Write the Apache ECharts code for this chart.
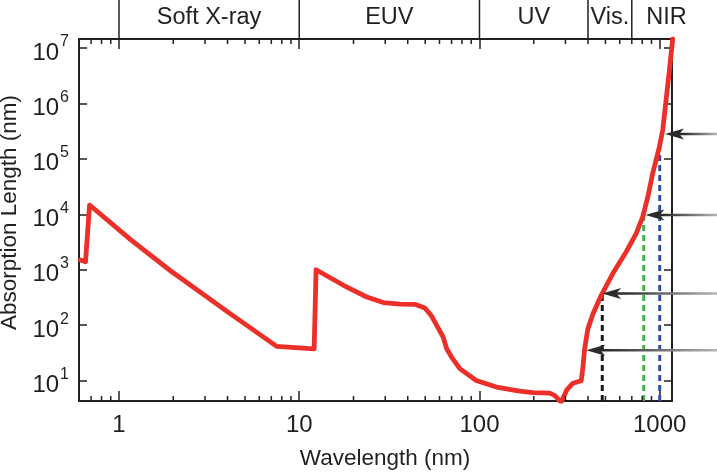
<!DOCTYPE html>
<html>
<head>
<meta charset="utf-8">
<script src="https://cdn.jsdelivr.net/npm/echarts@6/dist/echarts.min.js"></script>
<style>
  html, body { margin: 0; padding: 0; background: #fff; }
  #chart { width: 717px; height: 476px; }
</style>
</head>
<body>
<div id="chart"></div>
<script>
// Absorption length of silicon versus wavelength (log-log)
const wavelength = [0.61, 0.652, 0.687, 1.16, 1.93, 4.1, 7.5, 12.1, 12.4,
  17.6, 23.7, 29.3, 36.2, 43.8, 49.8, 54, 57.8, 62.9, 65.7,
  70, 77.8, 96, 124, 167, 198, 245, 261, 284, 305,
  330, 367, 375, 383, 399, 426, 474, 549, 651, 740,
  805, 859, 914, 996, 1039, 1085, 1132, 1180];
const absorption = [1500, 1400, 14700, 3500, 960, 165, 41.6, 37.5, 1000,
  525, 323, 256, 240, 238, 205, 150, 100, 61, 38,
  26.7, 16.5, 10.1, 7.66, 6.5, 6.07, 5.97, 5.43, 4.1, 6.8,
  9.0, 10.0, 17.6, 37, 85, 160, 347, 853, 2094, 4500,
  9000, 20600, 54500, 165000, 330000, 1150000, 4000000, 14500000];

// Spectral regions along the top
const bandNames = ['Soft X-ray', 'EUV', 'UV', 'Vis.', 'NIR'];
const bandEdges = [1, 10, 100, 400, 700, 1700];

// Laser wavelengths marked with dashed drop lines: [wavelength, absorption at top]
const dropBlack = [480, 360];
const dropGreen = [815, 9700];
const dropBlue = [1000, 160000];

// Arrow tips pointing at the curve: [wavelength, absorption]
const arrowTips = [[1070, 280000], [833, 9700], [479, 372], [391, 35.2]];

// Minor ticks on the wavelength axis
const minorTicks = [0.7, 0.8, 0.9, 2, 3, 4, 5, 6, 7, 8, 9,
  20, 30, 40, 50, 60, 70, 80, 90, 200, 300, 400, 500, 600, 700, 800, 900];

const X_MIN = 0.6, X_MAX = 1170;
const Y_MIN = 4.3, Y_MAX = 14500000;

const INK = '#231f20';
const FONT = "'Liberation Sans', Arial, sans-serif";

function isDecade(v) {
  const l = Math.log10(v);
  return Math.abs(l - Math.round(l)) < 1e-6;
}

const chart = echarts.init(document.getElementById('chart'), null, { renderer: 'canvas' });

const axisLineStyle = { color: INK, width: 2 };
const tickStyle = { color: INK, width: 1.5 };

const option = {
  animation: false,
  backgroundColor: '#fff',
  grid: { left: 79, right: 45, top: 39, bottom: 75, containLabel: false, outerBoundsMode: 'none' },
  xAxis: [
    {
      type: 'log', logBase: 10, min: X_MIN, max: X_MAX, position: 'bottom',
      axisLine: { lineStyle: axisLineStyle },
      axisTick: { inside: true, length: 10, lineStyle: tickStyle },
      splitLine: { show: false },
      axisLabel: {
        showMinLabel: false, showMaxLabel: false, margin: 12,
        fontFamily: FONT, fontSize: 24, color: INK,
        formatter: v => isDecade(v) ? String(Math.round(v)) : ''
      },
      name: 'Wavelength (nm)', nameLocation: 'middle', nameGap: 46,
      nameTextStyle: { fontFamily: FONT, fontSize: 22.5, color: INK, padding: [0, 0, 0, 19] }
    },
    {
      type: 'log', logBase: 10, min: X_MIN, max: X_MAX, position: 'top',
      axisLine: { lineStyle: axisLineStyle },
      axisTick: { inside: true, length: 10, lineStyle: tickStyle },
      splitLine: { show: false },
      axisLabel: { show: false }
    }
  ],
  yAxis: [
    {
      type: 'log', logBase: 10, min: Y_MIN, max: Y_MAX, position: 'left',
      axisLine: { lineStyle: axisLineStyle },
      axisTick: { inside: true, length: 8, lineStyle: tickStyle },
      splitLine: { show: false },
      axisLabel: {
        showMinLabel: false, showMaxLabel: false, margin: 10,
        formatter: v => isDecade(v) ? '{b|10}{s|' + Math.round(Math.log10(v)) + '}' : '',
        rich: {
          b: { fontFamily: FONT, fontSize: 24, color: INK, verticalAlign: 'bottom', lineHeight: 34 },
          s: { fontFamily: FONT, fontSize: 16, color: INK, verticalAlign: 'top', lineHeight: 34, padding: [3, 0, 0, 1] }
        }
      },
      name: 'Absorption Length (nm)', nameLocation: 'middle', nameGap: 56,
      nameTextStyle: { fontFamily: FONT, fontSize: 22.5, color: INK, padding: [0, 0, 0, 15] }
    },
    {
      type: 'log', logBase: 10, min: Y_MIN, max: Y_MAX, position: 'right',
      axisLine: { lineStyle: axisLineStyle },
      axisTick: { inside: true, length: 8, lineStyle: tickStyle },
      splitLine: { show: false },
      axisLabel: { show: false }
    }
  ],
  series: [
    {
      name: 'drop-black', type: 'line', symbol: 'none', silent: true,
      data: [[dropBlack[0], Y_MIN], dropBlack],
      lineStyle: { color: '#1a1a1a', width: 3, type: [6, 4] }
    },
    {
      name: 'drop-green', type: 'line', symbol: 'none', silent: true,
      data: [[dropGreen[0], Y_MIN], dropGreen],
      lineStyle: { color: '#3fb54a', width: 3, type: [6, 4] }
    },
    {
      name: 'drop-blue', type: 'line', symbol: 'none', silent: true,
      data: [[dropBlue[0], Y_MIN], dropBlue],
      lineStyle: { color: '#2f4fa6', width: 3, type: [6, 4] }
    },
    {
      name: 'Absorption length', type: 'line', symbol: 'none', smooth: false,
      data: wavelength.map((w, i) => [w, absorption[i]]),
      lineStyle: { color: '#ec2f28', width: 4.8, join: 'round', cap: 'round' },
      z: 5
    },
    {
      // minor ticks at 2..9 of each decade, on bottom and top axes
      name: 'minor-ticks', type: 'custom', silent: true, clip: false,
      data: minorTicks.map(v => [v, Y_MAX]),
      renderItem(params, api) {
        const x = api.coord([api.value(0), Y_MAX])[0];
        const cs = params.coordSys;
        const yb = cs.y + cs.height, yt = cs.y;
        return {
          type: 'group', children: [
            { type: 'line', shape: { x1: x, y1: yb, x2: x, y2: yb - 5 }, style: { stroke: INK, lineWidth: 1.5 } },
            { type: 'line', shape: { x1: x, y1: yt, x2: x, y2: yt + 5 }, style: { stroke: INK, lineWidth: 1.5 } }
          ]
        };
      },
      z: 6
    },
    {
      // spectral region separators and names above the plot
      name: 'bands', type: 'custom', silent: true, clip: false,
      data: bandNames.map((n, i) => [bandEdges[i], bandEdges[i + 1]]),
      renderItem(params, api) {
        const i = params.dataIndex;
        const x0 = api.coord([api.value(0), Y_MAX])[0];
        const x1 = api.coord([api.value(1), Y_MAX])[0];
        const top = params.coordSys.y;
        return {
          type: 'group', children: [
            { type: 'line', shape: { x1: x0, y1: 0, x2: x0, y2: top }, style: { stroke: INK, lineWidth: 1.5 } },
            {
              type: 'text', x: (x0 + x1) / 2, y: top - 21,
              style: {
                text: bandNames[i], fill: INK, fontFamily: FONT, fontSize: 23.5,
                align: 'center', verticalAlign: 'middle'
              }
            }
          ]
        };
      },
      z: 6
    },
    {
      // arrows coming in from the right edge
      name: 'arrows', type: 'custom', silent: true, clip: false,
      data: arrowTips,
      renderItem(params, api) {
        const p = api.coord([api.value(0), api.value(1)]);
        const w = api.getWidth();
        const len = 19, hw = 5.5;
        return {
          type: 'group', children: [
            {
              type: 'line', shape: { x1: p[0] + len * 0.7, y1: p[1], x2: w, y2: p[1] },
              style: {
                lineWidth: 2.5,
                stroke: {
                  type: 'linear', x: p[0] + len, y: 0, x2: w, y2: 0, global: true,
                  colorStops: [{ offset: 0, color: '#2b2b2b' }, { offset: 1, color: '#b5b5b5' }]
                }
              }
            },
            {
              type: 'polygon',
              shape: { points: [[p[0], p[1]], [p[0] + len, p[1] - hw], [p[0] + len * 0.75, p[1]], [p[0] + len, p[1] + hw]] },
              style: { fill: '#2b2b2b' }
            }
          ]
        };
      },
      z: 10
    }
  ]
};

chart.setOption(option);
</script>
</body>
</html>
